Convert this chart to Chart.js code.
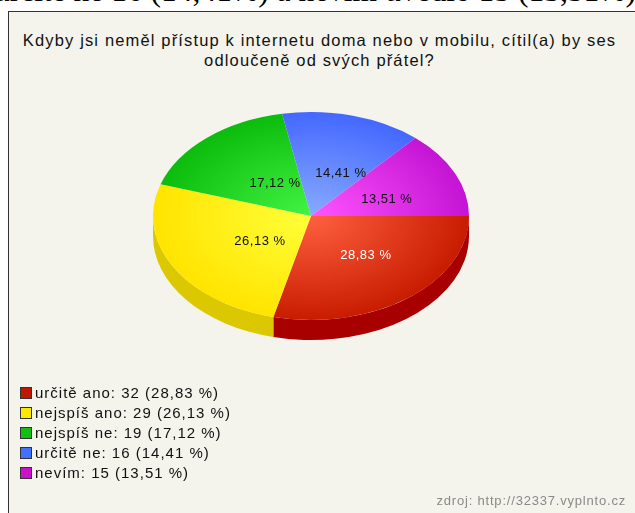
<!DOCTYPE html>
<html lang="cs">
<head>
<meta charset="utf-8">
<script src="https://cdn.jsdelivr.net/npm/chart.js@4/dist/chart.umd.min.js"></script>
<style>
    body { margin: 0; width: 635px; height: 513px; overflow: hidden; background: #fff; position: relative; font-family: "Liberation Sans", Arial, sans-serif; }
    .cut { position: absolute; left: -6px; top: -25px; font: 31.5px/31.5px "Liberation Serif", serif; color: #000; white-space: nowrap; }
    .box { position: absolute; left: 8px; top: 11px; width: 640px; height: 520px; border-left: 1px solid #333; border-top: 1px solid #333; background: #f4f3ec; }
    .title { position: absolute; left: 0; top: 30px; width: 639px; text-align: center; font-size: 16.5px; line-height: 20px; letter-spacing: 1.15px; color: #111; }
    #chartWrap { position: absolute; left: 0; top: 0; width: 635px; height: 513px; }
    .legend { position: absolute; left: 20px; top: 383px; font-size: 15px; line-height: 20px; letter-spacing: 1px; color: #111; }
    .legend div { white-space: nowrap; }
    .legend span.sw { display: inline-block; width: 10px; height: 10px; border: 1px solid #333; margin-right: 3px; vertical-align: -1px; }
    .source { position: absolute; right: 9px; top: 493px; font-size: 13px; letter-spacing: 0.8px; color: #8a8a8a; }
</style>
</head>
<body>
<div class="cut">určitě ne 16 (14,41%) a nevím uvedlo 15 (13,51%)</div>
<div class="box"></div>
<div class="title">Kdyby jsi neměl přístup k internetu doma nebo v mobilu, cítil(a) by ses<br>odloučeně od svých přátel?</div>
<div id="chartWrap"><canvas id="pieChart" width="635" height="513"></canvas></div>
<div class="legend" id="legend"></div>
<div class="source">zdroj: http://32337.vyplnto.cz</div>
<script>
const categories = ['určitě ano', 'nejspíš ano', 'nejspíš ne', 'určitě ne', 'nevím'];
const counts = [32, 29, 19, 16, 15];
const lightColors = ['#ff6040', '#ffff3a', '#44f444', '#88aaff', '#ff55ff'];
const darkColors = ['#c81c00', '#ffe400', '#0cbc0c', '#4468ff', '#c414d4'];
const sideColors = ['#a80000', '#dcc800', '#089008', '#2040c0', '#900090'];
const legendColors = ['#c01800', '#ffe800', '#10c010', '#4070ff', '#cc10cc'];
const labelColors = ['#ffffff', '#111111', '#111111', '#111111', '#111111'];

const total = counts.reduce((s, v) => s + v, 0);
const pct = v => (v / total * 100).toFixed(2).replace('.', ',');

const squash = 104 / 158;
const depth = 20;

document.getElementById('legend').innerHTML = categories.map((c, i) =>
    `<div><span class="sw" style="background:${legendColors[i]}"></span>${c}: ${counts[i]} (${pct(counts[i])} %)</div>`
).join('');

function sliceFill(context) {
    const chart = context.chart;
    const i = context.dataIndex;
    const area = chart.chartArea;
    if (!area) return darkColors[i];
    const cx = (area.left + area.right) / 2;
    const cy = (area.top + area.bottom) / 2;
    const r = Math.min(area.right - area.left, area.bottom - area.top) / 2;
    const g = chart.ctx.createRadialGradient(cx, cy, 0, cx, cy, r);
    g.addColorStop(0, lightColors[i]);
    g.addColorStop(1, darkColors[i]);
    return g;
}

const pie3d = {
    id: 'pie3d',
    beforeDatasetsDraw(chart) {
        const ctx = chart.ctx;
        const arcs = chart.getDatasetMeta(0).data;
        const cx = arcs[0].x, cy = arcs[0].y, r = arcs[0].outerRadius;
        const d = depth / squash;
        ctx.save();
        ctx.translate(cx, cy);
        ctx.scale(1, squash);
        arcs.forEach((a, i) => {
            const s = Math.max(a.startAngle, 0);
            const e = Math.min(a.endAngle, Math.PI);
            if (e <= s) return;
            ctx.beginPath();
            ctx.arc(0, 0, r, s, e);
            ctx.lineTo(r * Math.cos(e), r * Math.sin(e) + d);
            ctx.arc(0, d, r, e, s, true);
            ctx.closePath();
            ctx.fillStyle = sideColors[i];
            ctx.fill();
        });
        ctx.restore();
        ctx.save();
        ctx.translate(cx, cy);
        ctx.scale(1, squash);
        ctx.translate(-cx, -cy);
    },
    afterDatasetsDraw(chart) {
        const ctx = chart.ctx;
        ctx.restore();
        const arcs = chart.getDatasetMeta(0).data;
        ctx.save();
        ctx.font = '13px "Liberation Sans", Arial, sans-serif';
        ctx.letterSpacing = '0.5px';
        ctx.textAlign = 'center';
        ctx.textBaseline = 'middle';
        arcs.forEach((a, i) => {
            const mid = (a.startAngle + a.endAngle) / 2;
            const f = 0.45;
            const x = a.x + a.outerRadius * f * Math.cos(mid) + 11;
            const y = a.y + a.outerRadius * squash * f * Math.sin(mid) + 3;
            ctx.fillStyle = labelColors[i];
            ctx.fillText(pct(counts[i]) + ' %', x, y);
        });
        ctx.restore();
    }
};

new Chart(document.getElementById('pieChart'), {
    type: 'pie',
    data: {
        labels: categories,
        datasets: [{
            data: counts,
            backgroundColor: sliceFill,
            borderWidth: 0,
            hoverOffset: 0
        }]
    },
    options: {
        responsive: false,
        animation: false,
        rotation: 90,
        layout: { padding: { left: 153, right: 166, top: 58, bottom: 139 } },
        plugins: {
            legend: { display: false },
            tooltip: { enabled: false },
            title: { display: false }
        }
    },
    plugins: [pie3d]
});
</script>
</body>
</html>
